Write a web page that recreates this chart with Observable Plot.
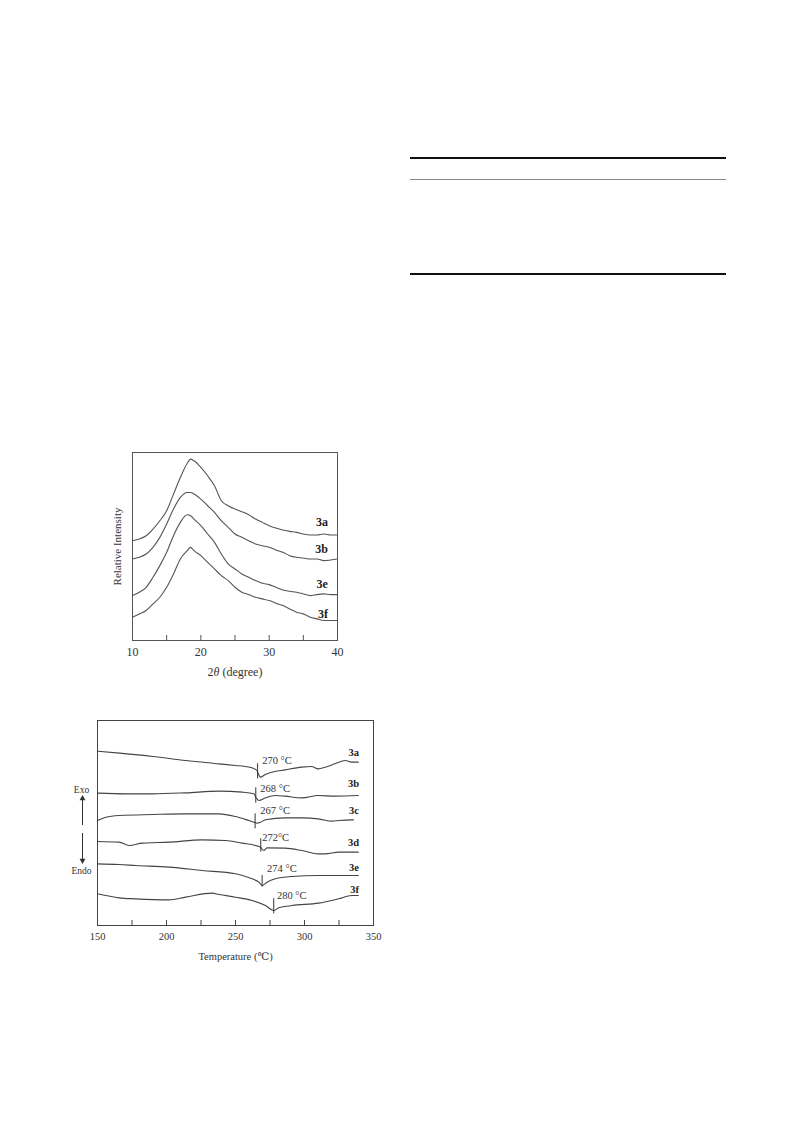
<!DOCTYPE html>
<html>
<head>
<meta charset="utf-8">
<script src="https://cdn.jsdelivr.net/npm/d3@7"></script>
<script src="https://cdn.jsdelivr.net/npm/@observablehq/plot@0.6"></script>
<style>
  html, body { margin: 0; padding: 0; background: #fff; }
  #page { position: relative; width: 793px; height: 1123px; background: #fff; overflow: hidden; font-family: "Liberation Serif", "DejaVu Serif", serif; }
  .rule { position: absolute; left: 410px; width: 316px; }
  #xrd { position: absolute; left: 90px; top: 440px; }
  #dsc { position: absolute; left: 60px; top: 710px; }
</style>
</head>
<body>
<div id="page">
  <div class="rule" style="top:157px;height:2px;background:#111;"></div>
  <div class="rule" style="top:179px;height:1px;background:#888;"></div>
  <div class="rule" style="top:273px;height:2px;background:#111;"></div>
  <div id="xrd"></div>
  <div id="dsc"></div>
</div>
<script>
// ---------------- XRD data (2θ in degrees, relative intensity in arbitrary units) ----------------
const xrdTheta = [10,11,12,13,14,15,16,17,18,18.5,19,20,21,22,23,24,25,26,27,28,29,30,31,32,33,34,35,36,37,38,39,40];
const xrd3a = [300,305,315,335,360,390,440,490,532,545,540,520,495,465,420,405,395,387,378,365,355,345,338,332,328,325,320,317,317,320,317,317];
const xrd3b = [245,250,260,280,310,350,395,430,445,445,440,425,405,385,360,340,320,310,300,290,285,280,272,265,255,250,248,245,245,240,242,245];
const xrd3e = [135,145,160,190,225,265,315,355,378,375,365,345,320,295,260,230,215,200,190,180,172,168,160,152,148,145,140,135,138,140,138,138];
const xrd3f = [70,80,90,110,130,160,200,245,270,280,270,255,235,215,195,180,160,145,138,130,125,120,112,105,95,85,80,70,65,60,60,60];
const xrdSamples = ["3a","3b","3e","3f"];
const xrdLabelY = [355,275,170,80];
const xrdMajorTicks = [10,20,30,40];
const xrdAllTicks = [15,20,25,30,35];

// ---------------- DSC data (temperature °C, heat flow arbitrary units) ----------------
const dscT3a = [150,166,190,214,238,250,257,262,265.5,268,271.5,276.5,286,298,305,310,315,322,329.5,334,339];
const dscV3a = [523,517,507,495,485,480,477,473,465,445,453,460,467,475,477,470,475,485,495,490,490];
const dscT3b = [150,170.5,190,214,238,255,263.3,265,267,271.7,279,286,298,310,322,339];
const dscV3b = [397,395,395,398,403,400,395,383,375,383,390,388,383,390,388,390];
const dscT3c = [150,156,165.7,190,214,238,250,259.6,263.3,265.7,268.1,271.7,286,298,310,320,324.7,334.3,335.5];
const dscV3c = [315,325,330,333,335,335,327,315,310,307,310,317,323,323,320,313,315,317,317];
const dscT3d = [150,165.7,172.9,182.5,201.8,225.9,242.8,254.8,264.5,268.1,270.5,272.9,286,298,310,315,324.7,339];
const dscV3d = [252,250,240,247,250,257,255,247,240,235,225,233,232,225,215,215,220,220];
const dscT3e = [150,165.7,177.7,201.8,225.9,250,262,266.9,269.3,272.9,278.9,291,310,339];
const dscV3e = [185,183,180,175,165,155,140,130,120,130,140,147,150,150];
const dscT3f = [150,165.7,177.7,201.8,213.9,233.1,238,250,262,271.7,277.7,281.3,291,310.2,324.7,334.3,339];
const dscV3f = [95,83,80,77,85,97,93,85,75,60,45,53,60,67,80,90,90];
const dscSamples = ["3a","3b","3c","3d","3e","3f"];
const dscLabelY = [520,427,345,248,175,108];
const dscOnsetT = [266,264.7,264.2,268.3,269.3,277.7];
const dscOnsetTop = [485,413,335,260,150,80];
const dscOnsetBottom = [440,367,290,220,115,35];
const dscPeakText = ["270 °C","268 °C","267 °C","272°C","274 °C","280 °C"];
const dscPeakTextT = [269.3,268,268,269.3,272.9,280];
const dscPeakTextY = [495,410,345,265,170,90];
const dscMajorTicks = [150,200,250,300,350];
const dscAllTicks = [175,200,225,250,275,300,325];
const exoEndoText = ["Exo","Endo"];
const exoEndoTextY = [408,165];
const arrowShaftTop = [381,276];
const arrowShaftBottom = [300,195];
const arrowHeadY = [381,195];
const arrowHeadRotate = [0,180];

// ---------------- build tables ----------------
const xrdSeries = [xrd3a, xrd3b, xrd3e, xrd3f];
const xrdRows = xrdSamples.flatMap((s, i) => xrdTheta.map((t, j) => ({sample: s, theta: t, intensity: xrdSeries[i][j]})));
const xrdLabels = xrdSamples.map((s, i) => ({sample: s, theta: 38.6, intensity: xrdLabelY[i]}));

const dscTs = [dscT3a, dscT3b, dscT3c, dscT3d, dscT3e, dscT3f];
const dscVs = [dscV3a, dscV3b, dscV3c, dscV3d, dscV3e, dscV3f];
const dscRows = dscSamples.flatMap((s, i) => dscTs[i].map((t, j) => ({sample: s, T: t, v: dscVs[i][j]})));
const dscLabels = dscSamples.map((s, i) => ({sample: s, T: 339.5, v: dscLabelY[i]}));
const dscOnsets = dscSamples.map((s, i) => ({sample: s, T: dscOnsetT[i], y1: dscOnsetTop[i], y2: dscOnsetBottom[i], text: dscPeakText[i], tT: dscPeakTextT[i], tY: dscPeakTextY[i]}));
const exoEndo = exoEndoText.map((t, i) => ({text: t, T: 150, v: exoEndoTextY[i], s1: arrowShaftTop[i], s2: arrowShaftBottom[i], h: arrowHeadY[i], r: arrowHeadRotate[i]}));

// ---------------- XRD chart ----------------
const xW = 260, xH = 250, xMT = 12, xMB = 50;
const xrdPlot = Plot.plot({
  width: xW, height: xH,
  marginLeft: 42, marginRight: 13, marginTop: xMT, marginBottom: xMB,
  x: {domain: [10, 40], ticks: xrdMajorTicks, tickSize: 0, tickPadding: 7, label: null},
  y: {domain: [0, 565], axis: null},
  style: {fontFamily: "Liberation Serif, DejaVu Serif, serif", fontSize: "12px", color: "#333", background: "transparent", overflow: "visible"},
  marks: [
    Plot.ruleX(xrdAllTicks, {stroke: "#555", insetTop: xH - xMT - xMB - 5}),
    Plot.line(xrdRows, {x: "theta", y: "intensity", z: "sample", stroke: "#555", strokeWidth: 1.1, curve: "monotone-x"}),
    Plot.text(xrdLabels, {x: "theta", y: "intensity", text: "sample", textAnchor: "end", fontWeight: "bold", fontSize: 12, fill: "#222"}),
    Plot.text(["Relative Intensity"], {frameAnchor: "left", textAnchor: "middle", lineAnchor: "middle", rotate: -90, dx: -15, fontSize: 11, fill: "#333"}),
    Plot.text(["2θ (degree)"], {frameAnchor: "bottom", lineAnchor: "middle", dy: 32, fontSize: 12, fill: "#333"}),
    Plot.frame({stroke: "#555"})
  ]
});
document.getElementById("xrd").appendChild(xrdPlot);
d3.select(xrdPlot).selectAll("text").each(function() {
  if (this.textContent === "2θ (degree)") {
    const t = d3.select(this);
    t.text("");
    t.append("tspan").text("2");
    t.append("tspan").attr("font-style", "italic").text("θ");
    t.append("tspan").text(" (degree)");
  }
});

// ---------------- DSC chart ----------------
const dW = 320, dH = 270, dMT = 10, dMB = 55;
const dscPlot = Plot.plot({
  width: dW, height: dH,
  marginLeft: 37, marginRight: 7, marginTop: dMT, marginBottom: dMB,
  x: {domain: [150, 350], ticks: dscMajorTicks, tickSize: 0, tickPadding: 7, label: null},
  y: {domain: [0, 615], axis: null},
  style: {fontFamily: "Liberation Serif, DejaVu Serif, serif", fontSize: "10.5px", color: "#333", background: "transparent", overflow: "visible"},
  marks: [
    Plot.ruleX(dscAllTicks, {stroke: "#444", insetTop: dH - dMT - dMB - 5}),
    Plot.line(dscRows, {x: "T", y: "v", z: "sample", stroke: "#444", strokeWidth: 1.1, curve: "monotone-x"}),
    Plot.ruleX(dscOnsets, {x: "T", y1: "y1", y2: "y2", stroke: "#333", strokeWidth: 1}),
    Plot.text(dscOnsets, {x: "tT", y: "tY", text: "text", textAnchor: "start", fontSize: 10.5, fill: "#333"}),
    Plot.text(dscLabels, {x: "T", y: "v", text: "sample", textAnchor: "end", fontWeight: "bold", fontSize: 10.5, fill: "#222"}),
    Plot.text(exoEndo, {x: "T", y: "v", text: "text", dx: -16, fontSize: 9.5, fill: "#333"}),
    Plot.ruleX(exoEndo, {x: "T", y1: "s1", y2: "s2", dx: -15, stroke: "#333", strokeWidth: 1}),
    Plot.dot(exoEndo, {x: "T", y: "h", symbol: "triangle", rotate: "r", r: 2.2, fill: "#333", stroke: "none", dx: -15}),
    Plot.text(["Temperature (℃)"], {frameAnchor: "bottom", lineAnchor: "middle", dy: 31, fontSize: 10.5, fill: "#333"}),
    Plot.frame({stroke: "#444"})
  ]
});
document.getElementById("dsc").appendChild(dscPlot);
</script>
</body>
</html>
